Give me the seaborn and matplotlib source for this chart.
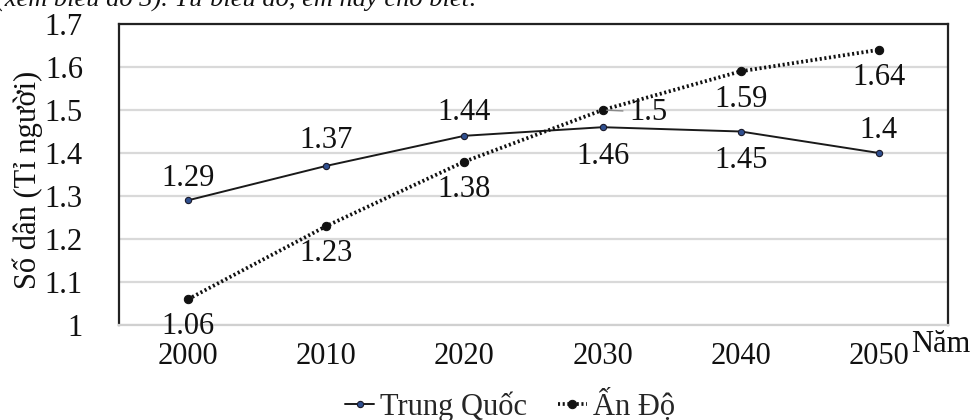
import matplotlib
matplotlib.use("Agg")
import matplotlib.pyplot as plt
import seaborn as sns
import pandas as pd

# Population (billions) by year
years = ["2000", "2010", "2020", "2030", "2040", "2050"]
china = [1.29, 1.37, 1.44, 1.46, 1.45, 1.40]
india = [1.06, 1.23, 1.38, 1.50, 1.59, 1.64]
china_label = ["1.29", "1.37", "1.44", "1.46", "1.45", "1.4"]
india_label = ["1.06", "1.23", "1.38", "1.5", "1.59", "1.64"]
series_names = ["Trung Quốc", "Ấn Độ"]
y_ticks = [1.0, 1.1, 1.2, 1.3, 1.4, 1.5, 1.6, 1.7]
y_tick_labels = ["1", "1.1", "1.2", "1.3", "1.4", "1.5", "1.6", "1.7"]

sns.set_theme(style="white")
plt.rcParams["font.family"] = ["Liberation Serif", "DejaVu Serif"]
FS = 22

df = pd.DataFrame({
    "year": years * 2,
    "pop": china + india,
    "country": [series_names[0]] * len(years) + [series_names[1]] * len(years),
})

fig = plt.figure(figsize=(9.76, 4.20), dpi=100)
ax = fig.add_axes([119 / 976, 1 - 325 / 420, (948 - 119) / 976, (325 - 24) / 420])

sns.lineplot(data=df[df.country == series_names[0]], x="year", y="pop", ax=ax,
             color="#1a1a1a", linewidth=1.4, marker="o", markersize=4.5,
             markerfacecolor="#2f4f8f", markeredgecolor="#1a1a2a", markeredgewidth=0.8,
             label=series_names[0], sort=False)
sns.lineplot(data=df[df.country == series_names[1]], x="year", y="pop", ax=ax,
             color="#111111", linewidth=2.7, linestyle=(0, (0.55, 0.7)),
             marker="o", markersize=6, markerfacecolor="#111111", markeredgecolor="#111111",
             label=series_names[1], sort=False)

ax.set_xlim(-0.5, len(years) - 0.5)
ax.set_ylim(1.0, 1.7)
ax.set_yticks(y_ticks)
ax.set_yticklabels(y_tick_labels)
ax.set_xlabel("")
ax.set_ylabel("")
ax.grid(axis="y", color="#d9d9d9", linewidth=1.6)
ax.set_axisbelow(True)
ax.tick_params(axis="both", length=0, labelsize=FS, colors="#111111")
ax.tick_params(axis="y", pad=26)
ax.tick_params(axis="x", pad=12)
for s in ["left", "top", "right"]:
    ax.spines[s].set_color("#222222")
    ax.spines[s].set_linewidth(1.6)
ax.spines["bottom"].set_color("#d0d0d0")
ax.spines["bottom"].set_linewidth(1.6)

# Data labels: offsets in points (dx, dy)
china_off = [(0, 16), (0, 18), (0, 17), (0, -21), (0, -21), (0, 16)]
india_off = [(0, -20), (0, -20), (0, -20), (19, 0), (0, -20), (0, -20)]
for i, (v, t) in enumerate(zip(china, china_label)):
    dx, dy = china_off[i]
    ax.annotate(t, (i, v), xytext=(dx, dy), textcoords="offset points",
                ha="center", va="center", fontsize=FS, color="#111111")
for i, (v, t) in enumerate(zip(india, india_label)):
    dx, dy = india_off[i]
    if dx:
        ax.annotate(t, (i, v), xytext=(dx, -1.5), textcoords="offset points",
                    ha="left", va="center", fontsize=FS, color="#111111",
                    arrowprops=dict(arrowstyle="-", color="#888888", lw=1.0,
                                    shrinkA=2, shrinkB=3))
    else:
        ax.annotate(t, (i, v), xytext=(dx, dy), textcoords="offset points",
                    ha="center", va="center", fontsize=FS, color="#111111")

fig.text(28 / 976, 1 - 180 / 420, "Số dân (Tỉ người)", rotation=90,
         ha="center", va="center", fontsize=FS, color="#111111")
fig.text(911 / 976, 1 - 345 / 420, "Năm", ha="left", va="center",
         fontsize=FS, color="#111111")
fig.text(-0.004, 1 - 6 / 420, "(xem biểu đồ 3). Từ biểu đồ, em hãy cho biết:",
         ha="left", va="baseline", fontsize=19, style="italic", color="#111111")

ax.legend(loc="center", bbox_to_anchor=(510 / 976, 1 - 405 / 420),
          bbox_transform=fig.transFigure, ncol=2, frameon=False,
          fontsize=FS, handlelength=0.95, handletextpad=0.2, columnspacing=1.0,
          borderpad=0, borderaxespad=0)

fig.savefig("out.png", dpi=100)
